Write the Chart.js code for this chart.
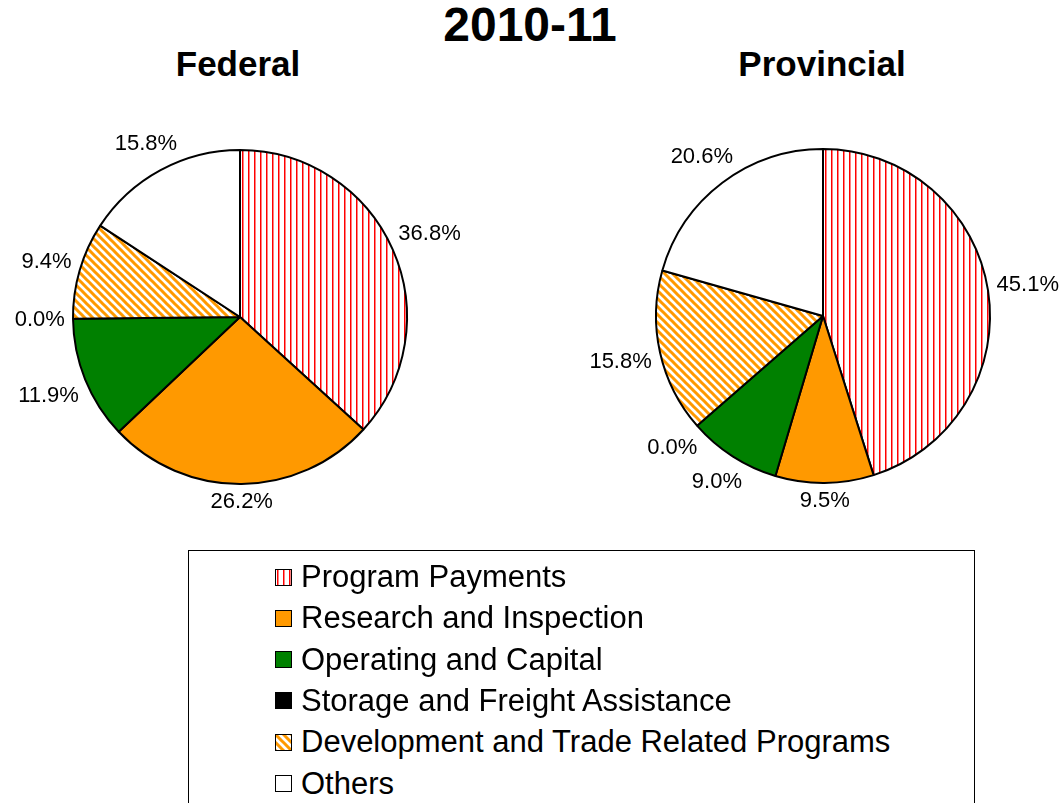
<!DOCTYPE html>
<html>
<head>
<meta charset="utf-8">
<script src="https://cdn.jsdelivr.net/npm/chart.js@4/dist/chart.umd.min.js"></script>
<style>
  html, body { margin: 0; padding: 0; background: #fff; }
  body { width: 1062px; height: 803px; overflow: hidden; position: relative; font-family: "Liberation Sans", Arial, sans-serif; color: #000; }
  .txt { position: absolute; white-space: nowrap; transform: translateX(-50%); font-weight: bold; line-height: 1; }
  #title { left: 530px; top: 1px; font-size: 48px; }
  .sub { font-size: 35px; top: 46px; }
  .pie { position: absolute; width: 480px; height: 440px; }
  #legend { position: absolute; left: 188px; top: 550px; width: 787px; height: 280px; border: 1.5px solid #000; box-sizing: border-box; }
  .row { position: absolute; left: 86px; height: 30px; display: flex; align-items: center; font-size: 31px; }
  .row canvas { width: 17px; height: 17px; margin-right: 9px; }
</style>
</head>
<body>
<div id="title" class="txt">2010-11</div>
<div class="txt sub" style="left:238px">Federal</div>
<div class="txt sub" style="left:822px">Provincial</div>
<div class="pie" style="left:0px;top:97px"><canvas id="fed"></canvas></div>
<div class="pie" style="left:583px;top:96px"><canvas id="prov"></canvas></div>
<div id="legend"></div>

<script>
// data
const categories = [
  'Program Payments',
  'Research and Inspection',
  'Operating and Capital',
  'Storage and Freight Assistance',
  'Development and Trade Related Programs',
  'Others'
];
const federalShares = [36.8, 26.2, 11.9, 0.0, 9.4, 15.8];
const provincialShares = [45.1, 9.5, 9.0, 0.0, 15.8, 20.6];

// fills: vertical red hatch, orange, green, black, orange diagonal hatch, white
function stripesV() {
  const c = document.createElement('canvas');
  c.width = 6; c.height = 6;
  const g = c.getContext('2d');
  g.fillStyle = '#fff'; g.fillRect(0, 0, 6, 6);
  g.fillStyle = '#ff0000'; g.fillRect(2, 0, 1, 6);
  g.fillStyle = '#ff8080'; g.fillRect(3, 0, 1, 6);
  return g.createPattern(c, 'repeat');
}
function stripesDiag() {
  const c = document.createElement('canvas');
  c.width = 8; c.height = 8;
  const g = c.getContext('2d');
  g.fillStyle = '#fff'; g.fillRect(0, 0, 8, 8);
  g.strokeStyle = '#ff9900'; g.lineWidth = 3;
  g.beginPath();
  g.moveTo(-4, -4); g.lineTo(12, 12);
  g.moveTo(-12, -4); g.lineTo(4, 12);
  g.moveTo(4, -4); g.lineTo(20, 12);
  g.stroke();
  return g.createPattern(c, 'repeat');
}
const fills = [stripesV(), '#ff9900', '#008000', '#000000', stripesDiag(), '#ffffff'];

// percent labels outside each slice
const outsideLabels = {
  id: 'outsideLabels',
  afterDatasetsDraw(chart) {
    const ctx = chart.ctx;
    const meta = chart.getDatasetMeta(0);
    const vals = chart.data.datasets[0].data;
    ctx.save();
    ctx.font = '22px "Liberation Sans", Arial, sans-serif';
    ctx.fillStyle = '#000';
    ctx.textAlign = 'center';
    ctx.textBaseline = 'middle';
    meta.data.forEach((arc, i) => {
      const p = arc.getProps(['x', 'y', 'startAngle', 'endAngle', 'outerRadius'], true);
      const mid = (p.startAngle + p.endAngle) / 2;
      const txt = vals[i].toFixed(1) + '%';
      const hw = ctx.measureText(txt).width / 2;
      const cx = Math.cos(mid), sy = Math.sin(mid);
      const d = p.outerRadius + 8 + hw * Math.abs(cx) + 9 * Math.abs(sy);
      ctx.fillText(txt, p.x + cx * d, p.y + sy * d + 1);
    });
    ctx.restore();
  }
};

function makePie(id, values) {
  return new Chart(document.getElementById(id), {
    type: 'pie',
    data: {
      labels: categories,
      datasets: [{
        data: values,
        backgroundColor: fills,
        borderColor: '#000',
        borderWidth: 2,
      }],
    },
    options: {
      responsive: true,
      maintainAspectRatio: false,
      animation: false,
      layout: { padding: 52 },
      plugins: { legend: { display: false }, tooltip: { enabled: false } },
    },
    plugins: [outsideLabels],
  });
}

makePie('fed', federalShares);
makePie('prov', provincialShares);

// legend
const legend = document.getElementById('legend');
categories.forEach((name, i) => {
  const row = document.createElement('div');
  row.className = 'row';
  row.style.top = (11 + i * 41.3) + 'px';
  const sw = document.createElement('canvas');
  sw.width = 17; sw.height = 17;
  const g = sw.getContext('2d');
  g.fillStyle = fills[i]; g.fillRect(0, 0, 17, 17);
  g.strokeStyle = '#000'; g.lineWidth = 1; g.strokeRect(0.5, 0.5, 16, 16);
  row.appendChild(sw);
  const t = document.createElement('span');
  t.textContent = name;
  row.appendChild(t);
  legend.appendChild(row);
});
</script>
</body>
</html>
